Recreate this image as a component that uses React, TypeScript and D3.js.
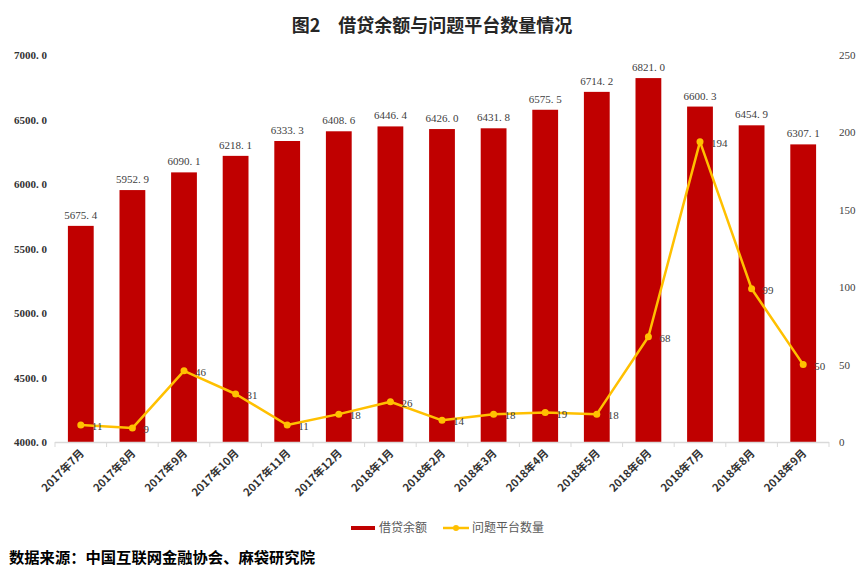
import React from "react";
import * as d3 from "d3";

const categories = ["2017年7月","2017年8月","2017年9月","2017年10月","2017年11月","2017年12月","2018年1月","2018年2月","2018年3月","2018年4月","2018年5月","2018年6月","2018年7月","2018年8月","2018年9月"];
const balance = [5675.4,5952.9,6090.1,6218.1,6333.3,6408.6,6446.4,6426.0,6431.8,6575.5,6714.2,6821.0,6600.3,6454.9,6307.1];
const problemCount = [11,9,46,31,11,18,26,14,18,19,18,68,194,99,50];
const leftTicks = [4000,4500,5000,5500,6000,6500,7000];
const rightTicks = [0,50,100,150,200,250];

const W = 864, H = 585;
const left = 55, right = 829, top = 55, bottom = 442;

export default function App() {
  const x = d3.scaleBand<string>().domain(categories).range([left, right]).paddingInner(0.5).paddingOuter(0.25);
  const yL = d3.scaleLinear().domain([4000, 7000]).range([bottom, top]);
  const yR = d3.scaleLinear().domain([0, 250]).range([bottom, top]);
  const step = x.step();
  const cx = (c: string) => (x(c) as number) + x.bandwidth() / 2;
  const line = d3.line<number>().x((_, i) => cx(categories[i])).y(d => yR(d));
  const serif = "'Liberation Serif', 'DejaVu Serif', serif";
  const cjk = "'Noto Sans CJK SC', sans-serif";
  return (
    <svg width={W} height={H} style={{ position: "absolute", left: 0, top: 0, background: "#fff" }}>
      <text x={432} y={32} textAnchor="middle" fontFamily={cjk} fontWeight="bold" fontSize={18} fill="#262626">图2　借贷余额与问题平台数量情况</text>
      {/* left axis */}
      {leftTicks.map(t => (
        <text key={t} x={47} y={yL(t) + 4} textAnchor="end" fontFamily={serif} fontWeight="bold" fontSize={11} fill="#333">{t.toFixed(1).replace(".", ". ")}</text>
      ))}
      {/* right axis */}
      {rightTicks.map(t => (
        <text key={t} x={839} y={yR(t) + 4} textAnchor="start" fontFamily={serif} fontSize={11} fill="#404040">{t}</text>
      ))}
      {/* bars */}
      {categories.map((c, i) => (
        <rect key={c} x={x(c)} y={yL(balance[i])} width={x.bandwidth()} height={bottom - yL(balance[i])} fill="#C00000" />
      ))}
      {/* axis line */}
      <line x1={left} x2={right} y1={bottom + 0.5} y2={bottom + 0.5} stroke="#d9d9d9" strokeWidth={1.5} />
      {d3.range(categories.length + 1).map(i => (
        <line key={i} x1={left + i * step} x2={left + i * step} y1={bottom} y2={bottom + 5} stroke="#d9d9d9" strokeWidth={1} />
      ))}
      {/* bar labels */}
      {categories.map((c, i) => (
        <text key={c} x={cx(c)} y={yL(balance[i]) - 7} textAnchor="middle" fontFamily={serif} fontSize={11} fill="#404040">{balance[i].toFixed(1).replace(".", ". ")}</text>
      ))}
      {/* line */}
      <path d={line(problemCount) || ""} fill="none" stroke="#FFC000" strokeWidth={2.5} strokeLinejoin="round" />
      {problemCount.map((v, i) => (
        <circle key={i} cx={cx(categories[i])} cy={yR(v)} r={3.5} fill="#FFC000" />
      ))}
      {problemCount.map((v, i) => (
        <text key={i} x={cx(categories[i]) + 11} y={yR(v) + 5} textAnchor="start" fontFamily={serif} fontSize={11} fill="#404040">{v}</text>
      ))}
      {/* x labels */}
      {categories.map(c => (
        <text key={c} transform={`translate(${cx(c) + 4},${bottom + 12}) rotate(-45)`} textAnchor="end" fontFamily={cjk} fontWeight="bold" fontSize={11} fill="#333">{c}</text>
      ))}
      {/* legend */}
      <rect x={351} y={526} width={24} height={4} fill="#C00000" />
      <text x={379} y={532} fontFamily={cjk} fontSize={12} fill="#595959">借贷余额</text>
      <line x1={443} x2={469} y1={528} y2={528} stroke="#FFC000" strokeWidth={2.5} />
      <circle cx={456} cy={528} r={3} fill="#FFC000" />
      <text x={472} y={532} fontFamily={cjk} fontSize={12} fill="#595959">问题平台数量</text>
      {/* source */}
      <text x={9} y={563} fontFamily={cjk} fontWeight="bold" fontSize={15.3} fill="#000">数据来源：中国互联网金融协会、麻袋研究院</text>
    </svg>
  );
}
